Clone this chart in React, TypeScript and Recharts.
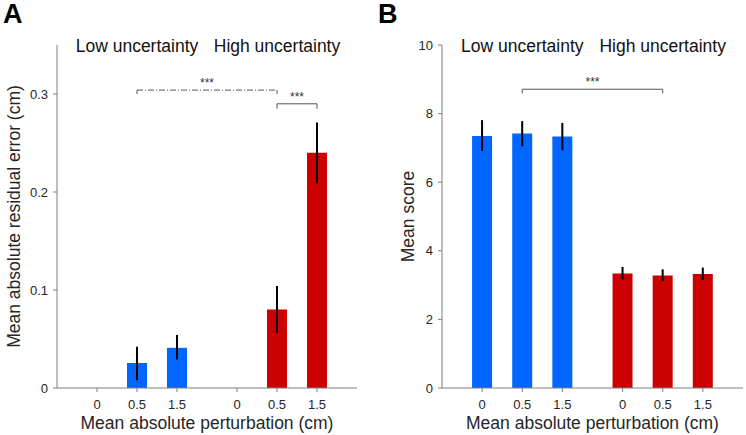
import React from "react";
import { Bar, Cell, ComposedChart, ErrorBar, ReferenceDot, ReferenceLine, XAxis, YAxis } from "recharts";

// bar slots on a numeric axis: two groups of three, with a wider gap between groups
const positions = [1, 2, 3, 4.5, 5.5, 6.5];
const tickLabels = ["0", "0.5", "1.5", "0", "0.5", "1.5"];
const groups = ["Low uncertainty", "High uncertainty"];
const groupCenters = [2, 5.5];

// panel A: mean absolute residual error (cm)
const errMean = [0, 0.0255, 0.041, 0, 0.08, 0.24];
const errLow = [0, 0.008, 0.029, 0, 0.056, 0.209];
const errHigh = [0, 0.042, 0.054, 0, 0.104, 0.271];

// panel B: mean score
const scoreMean = [7.35, 7.42, 7.33, 3.34, 3.28, 3.32];
const scoreLow = [6.91, 7.05, 6.93, 3.16, 3.11, 3.15];
const scoreHigh = [7.81, 7.78, 7.73, 3.53, 3.46, 3.51];

const BLUE = "#0066ff";
const RED = "#cc0000";
const barColors = [BLUE, BLUE, BLUE, RED, RED, RED];

const FONT = "'Liberation Sans', Arial, sans-serif";
const AXIS = "#7f7f7f";
const TEXT = "#262626";

const rows = (mean: number[], low: number[], high: number[]) =>
  positions.map((x, i) => ({ x, mean: mean[i], err: [mean[i] - low[i], high[i] - mean[i]] }));

type Bracket = { x1: number; x2: number; y: number; drop: number; dashed: boolean };

function Panel(props: {
  letter: string;
  data: ReturnType<typeof rows>;
  yDomain: [number, number];
  yTicks: number[];
  yFormat: (v: number) => string;
  yLabel: string;
  yLabelX: number;
  yAxisWidth: number;
  rightMargin: number;
  groupY: number;
  brackets: Bracket[];
}) {
  const { data, yDomain, yTicks, yFormat, yLabel, yLabelX, yAxisWidth, rightMargin, groupY, brackets } = props;
  return (
    <div style={{ position: "relative", width: 373, height: 435 }}>
      <div style={{ position: "absolute", left: props.letter === "A" ? 3 : 5, top: 1, fontSize: 27, lineHeight: "27px", fontWeight: 700, color: "#000" }}>
        {props.letter}
      </div>
      <ComposedChart width={373} height={435} data={data} margin={{ top: 45, right: rightMargin, bottom: 0, left: 0 }}>
        <XAxis
          dataKey="x"
          type="number"
          domain={[0, 7.5]}
          ticks={positions}
          interval={0}
          tickFormatter={(v: number) => tickLabels[positions.indexOf(v)] ?? ""}
          height={47}
          stroke={AXIS}
          tickSize={4}
          tickMargin={8}
          tick={{ fill: TEXT, fontSize: 13 }}
          label={{ value: "Mean absolute perturbation (cm)", position: "insideBottom", offset: 6, fill: TEXT, fontSize: 17.5 }}
        />
        <YAxis
          type="number"
          domain={yDomain}
          ticks={yTicks}
          width={yAxisWidth}
          stroke={AXIS}
          tickSize={4}
          tickMargin={5}
          tickFormatter={yFormat}
          tick={{ fill: TEXT, fontSize: 13 }}
          label={{ value: yLabel, angle: -90, position: "insideLeft", offset: yLabelX, fill: TEXT, fontSize: 17.5, style: { textAnchor: "middle" } }}
        />
        {groups.map((g, i) => (
          <ReferenceDot key={g} x={groupCenters[i]} y={groupY} r={0} fill="none" stroke="none"
            label={{ value: g, position: "center", fill: "#111", fontSize: 17.5 }} />
        ))}
        {brackets.map((b, i) => (
          <React.Fragment key={i}>
            <ReferenceLine segment={[{ x: b.x1, y: b.y }, { x: b.x2, y: b.y }]} stroke="#555" strokeWidth={1}
              strokeDasharray={b.dashed ? "6 2 1 2" : undefined}
              label={{ value: "***", position: "top", fill: "#333", fontSize: 12, offset: 3 }} />
            <ReferenceLine segment={[{ x: b.x1, y: b.y - b.drop }, { x: b.x1, y: b.y }]} stroke="#555" strokeWidth={1} />
            <ReferenceLine segment={[{ x: b.x2, y: b.y - b.drop }, { x: b.x2, y: b.y }]} stroke="#555" strokeWidth={1} />
          </React.Fragment>
        ))}
        <Bar dataKey="mean" barSize={20} isAnimationActive={false}>
          {data.map((_, i) => (
            <Cell key={i} fill={barColors[i]} />
          ))}
          <ErrorBar dataKey="err" direction="y" width={0} stroke="#000" strokeWidth={2} />
        </Bar>
      </ComposedChart>
    </div>
  );
}

export default function App() {
  return (
    <div style={{ position: "absolute", left: 0, top: 0, width: 746, height: 435, display: "flex", background: "#fff", fontFamily: FONT }}>
      <Panel
        letter="A"
        data={rows(errMean, errLow, errHigh)}
        yDomain={[0, 0.35]}
        yTicks={[0, 0.1, 0.2, 0.3]}
        yFormat={(v) => (v === 0 ? "0" : v.toFixed(1))}
        yLabel="Mean absolute residual error (cm)"
        yLabelX={14}
        yAxisWidth={57}
        rightMargin={16}
        groupY={0.349}
        brackets={[
          { x1: 2, x2: 5.5, y: 0.304, drop: 0.004, dashed: true },
          { x1: 5.5, x2: 6.5, y: 0.29, drop: 0.005, dashed: false },
        ]}
      />
      <Panel
        letter="B"
        data={rows(scoreMean, scoreLow, scoreHigh)}
        yDomain={[0, 10]}
        yTicks={[0, 2, 4, 6, 8, 10]}
        yFormat={(v) => String(v)}
        yLabel="Mean score"
        yLabelX={35}
        yAxisWidth={69}
        rightMargin={3}
        groupY={9.97}
        brackets={[{ x1: 2, x2: 5.5, y: 8.71, drop: 0.12, dashed: false }]}
      />
    </div>
  );
}
